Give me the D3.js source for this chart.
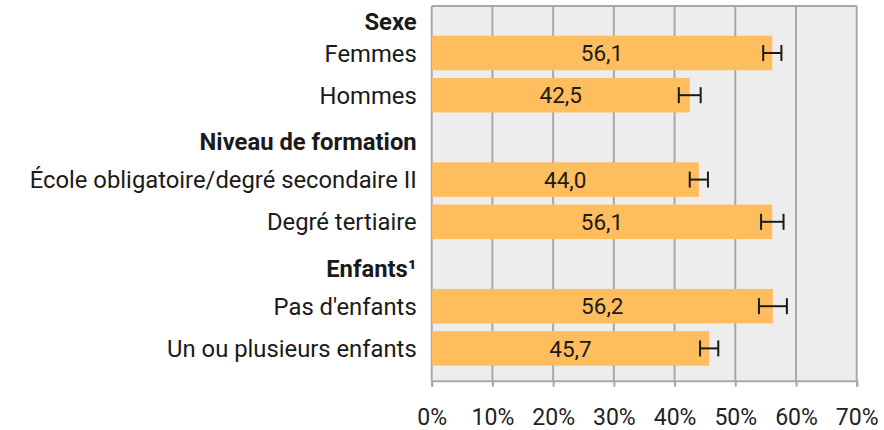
<!DOCTYPE html>
<html>
<head>
<meta charset="utf-8">
<script src="https://cdn.jsdelivr.net/npm/d3@7/dist/d3.min.js"></script>
<style>
  html, body { margin: 0; padding: 0; background: #fff; }
  svg { display: block; font-family: Roboto, "Noto Sans", sans-serif; }
</style>
</head>
<body>
<svg id="chart" width="884" height="430"></svg>
<script>
// Rows: headers (bold, no bar) and items (bars)
const rowLabels = ["Sexe", "Femmes", "Hommes", "Niveau de formation",
  "École obligatoire/degré secondaire II", "Degré tertiaire",
  "Enfants¹", "Pas d'enfants", "Un ou plusieurs enfants"];
const isHeader = [true, false, false, true, false, false, true, false, false];
const values = [null, 56.1, 42.5, null, 44.0, 56.1, null, 56.2, 45.7];
const valueLabels = [null, "56,1", "42,5", null, "44,0", "56,1", null, "56,2", "45,7"];
const errors = [null, 1.5, 1.8, null, 1.5, 1.85, null, 2.3, 1.5];
const xTicks = [0, 10, 20, 30, 40, 50, 60, 70];
const xTickLabels = ["0%", "10%", "20%", "30%", "40%", "50%", "60%", "70%"];

const svg = d3.select("#chart");
const plotLeft = 431.7, plotRight = 856.7, plotTop = 6, plotBottom = 380.7;

const x = d3.scaleLinear().domain([0, 70]).range([plotLeft, plotRight]);
const y = d3.scalePoint().domain(d3.range(rowLabels.length)).range([10.8, 348.4]);
const barH = 34.5;

// background
svg.append("rect")
  .attr("x", plotLeft).attr("y", plotTop)
  .attr("width", plotRight - plotLeft).attr("height", plotBottom - plotTop)
  .attr("fill", "#EDEDED");

// gridlines
svg.append("g").selectAll("line").data(xTicks).join("line")
  .attr("x1", d => x(d)).attr("x2", d => x(d))
  .attr("y1", plotTop).attr("y2", plotBottom)
  .attr("stroke", "#A8A8A8").attr("stroke-width", 2);

// top border
svg.append("line")
  .attr("x1", plotLeft).attr("x2", plotRight)
  .attr("y1", plotTop).attr("y2", plotTop)
  .attr("stroke", "#A8A8A8").attr("stroke-width", 2);

const items = d3.range(rowLabels.length).filter(i => !isHeader[i]);

// bars
svg.append("g").selectAll("rect").data(items).join("rect")
  .attr("x", x(0))
  .attr("y", i => y(i) - barH / 2)
  .attr("width", i => x(values[i]) - x(0))
  .attr("height", barH)
  .attr("fill", "#FFBE5E");

// value labels
svg.append("g").selectAll("text").data(items).join("text")
  .attr("x", i => (x(0) + x(values[i])) / 2)
  .attr("y", i => y(i))
  .attr("dy", "0.36em")
  .attr("text-anchor", "middle")
  .attr("font-size", 22.5)
  .attr("fill", "#1a1a1a")
  .text(i => valueLabels[i]);

// error bars
const eg = svg.append("g").attr("stroke", "#1a1a1a").attr("stroke-width", 2).attr("fill", "none");
items.forEach(i => {
  const lo = x(values[i] - errors[i]), hi = x(values[i] + errors[i]), cy = y(i), h = 8;
  eg.append("line").attr("x1", lo).attr("x2", hi).attr("y1", cy).attr("y2", cy);
  eg.append("line").attr("x1", lo).attr("x2", lo).attr("y1", cy - h).attr("y2", cy + h);
  eg.append("line").attr("x1", hi).attr("x2", hi).attr("y1", cy - h).attr("y2", cy + h);
});

// row labels
svg.append("g").selectAll("text").data(d3.range(rowLabels.length)).join("text")
  .attr("x", plotLeft - 15)
  .attr("y", i => isHeader[i] ? Math.max(y(i) + 4, plotTop + 15.7) : y(i))
  .attr("dy", "0.36em")
  .attr("text-anchor", "end")
  .attr("font-size", 23.8)
  .attr("font-weight", i => isHeader[i] ? "bold" : "normal")
  .attr("fill", "#1a1a1a")
  .text(i => rowLabels[i]);

// x axis
const xAxis = d3.axisBottom(x).tickValues(xTicks)
  .tickFormat((d, k) => xTickLabels[k]).tickSize(6).tickPadding(22);
const ax = svg.append("g").attr("transform", `translate(0,${plotBottom})`).call(xAxis);
ax.select(".domain").attr("stroke", "#A8A8A8").attr("stroke-width", 2);
ax.selectAll(".tick line").attr("stroke", "#A8A8A8").attr("stroke-width", 2);
ax.selectAll(".tick text").attr("font-size", 23).attr("font-family", "Roboto, sans-serif").attr("fill", "#222");
</script>
</body>
</html>
